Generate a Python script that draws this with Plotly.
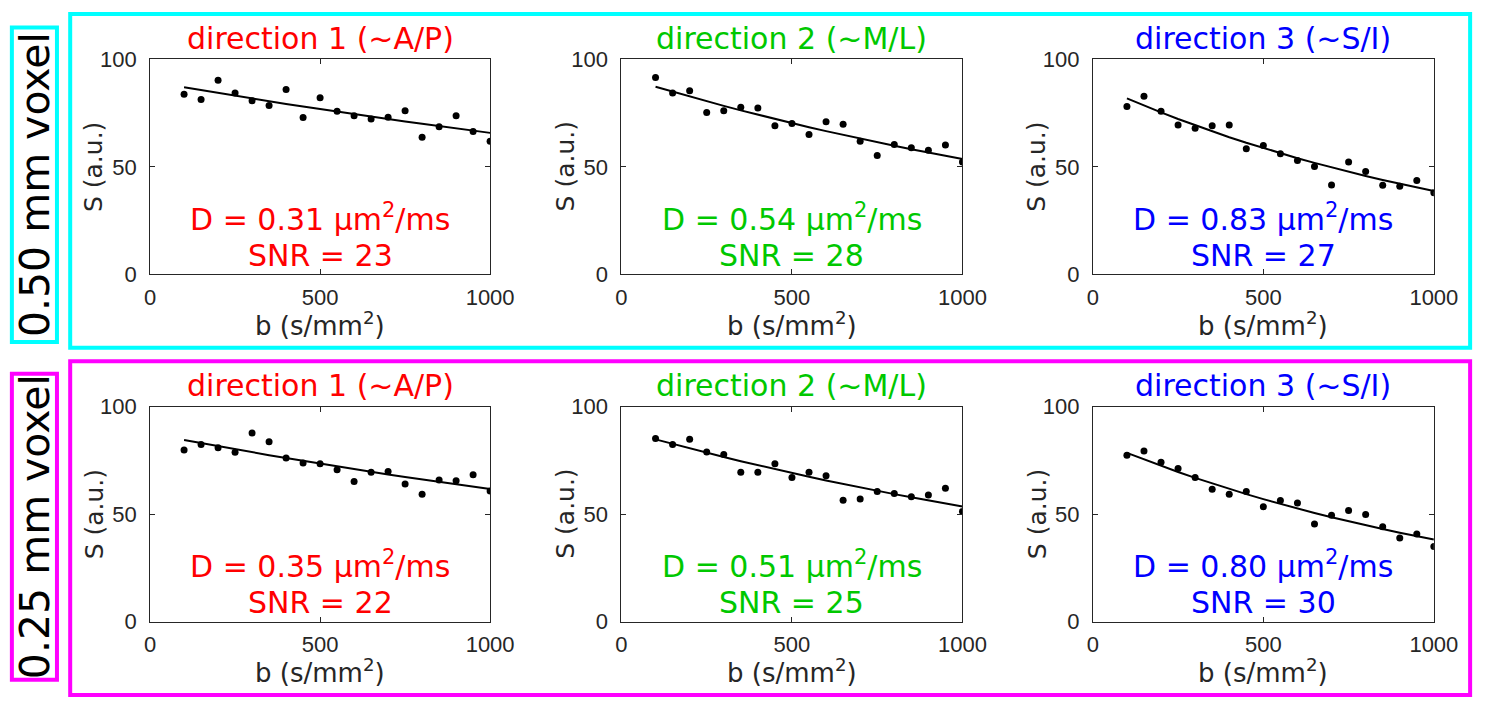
import plotly.graph_objects as go
import numpy as np

W, H = 1500, 710

# ---------------- data ----------------
b_values = [100, 150, 200, 250, 300, 350, 400, 450, 500, 550,
            600, 650, 700, 750, 800, 850, 900, 950, 1000]

# 0.50 mm voxel
S_050_dir1 = [83.7, 81.3, 90.3, 84.3, 80.7, 78.5, 85.9, 72.9, 82.1, 75.8,
              73.8, 72.2, 73.1, 76.1, 63.7, 68.6, 73.8, 66.4, 61.9]
S_050_dir2 = [91.5, 84.3, 85.4, 75.3, 76.1, 77.7, 77.3, 69.1, 70.1, 65.0,
              71.0, 69.8, 61.9, 55.3, 60.4, 58.9, 57.7, 60.1, 52.2]
S_050_dir3 = [78.0, 82.8, 75.8, 69.4, 67.9, 69.1, 69.4, 58.4, 59.9, 56.1,
              52.9, 50.2, 41.6, 52.2, 47.8, 41.4, 41.0, 43.6, 38.0]
# 0.25 mm voxel
S_025_dir1 = [79.8, 82.4, 80.9, 78.8, 87.7, 83.7, 76.1, 73.8, 73.4, 70.7,
              65.2, 69.5, 69.8, 64.0, 59.3, 65.9, 65.5, 68.3, 60.8]
S_025_dir2 = [85.2, 82.4, 84.8, 78.9, 77.7, 69.5, 69.5, 73.4, 67.1, 69.5,
              67.9, 56.5, 57.0, 60.5, 59.6, 58.1, 58.9, 62.0, 51.3]
S_025_dir3 = [77.4, 79.4, 74.1, 71.2, 67.1, 61.6, 59.3, 60.5, 53.4, 56.4,
              55.2, 45.4, 49.5, 51.7, 49.8, 44.2, 38.9, 40.8, 35.0]

# fitted mono-exponential parameters (S0 in a.u., D in um^2/ms)
fit_S0_050 = [89.7, 92.1, 88.9]
fit_D_050 = [0.31, 0.54, 0.83]
snr_050 = [23, 28, 27]
fit_S0_025 = [87.5, 89.2, 85.0]
fit_D_025 = [0.35, 0.51, 0.80]
snr_025 = [22, 25, 30]

direction_titles = ["direction 1 (~A/P)", "direction 2 (~M/L)", "direction 3 (~S/I)"]
row_labels = ["0.50 mm voxel", "0.25 mm voxel"]
x_label = "b (s/mm<sup>2</sup>)"
y_label = "S (a.u.)"
x_ticks = [0, 500, 1000]
y_ticks = [0, 50, 100]

# ---------------- styling ----------------
dir_colors = ["#FF0000", "#00C800", "#0000FF"]
row_colors = ["#00FFFF", "#FF00FF"]
TXT_FONT = "DejaVu Sans"
TICK_FONT = "Liberation Sans"
AX_COLOR = "#262626"


def px(x):
    return x / W


def py(y):
    return 1 - y / H


panel_x = [(147, 494), (628, 976), (1109, 1457)]
row_y = [(49, 272), (409, 632)]
row_offset = [0, 360]

rows_data = [
    (S_050_dir1, S_050_dir2, S_050_dir3, fit_S0_050, fit_D_050, snr_050),
    (S_025_dir1, S_025_dir2, S_025_dir3, fit_S0_025, fit_D_025, snr_025),
]

fig = go.Figure()
annotations = []
shapes = []
layout_axes = {}

b_arr = np.array(b_values, dtype=float)
idx = 0
for r, (s1, s2, s3, s0s, ds, snrs) in enumerate(rows_data):
    series = [s1, s2, s3]
    yt, yb = row_y[r]
    off = row_offset[r]
    for c in range(3):
        idx += 1
        xa = "x" if idx == 1 else f"x{idx}"
        ya = "y" if idx == 1 else f"y{idx}"
        xl, xr = panel_x[c]
        fit_vals = s0s[c] * np.exp(-b_arr * ds[c] / 1000.0)
        fig.add_trace(go.Scatter(x=b_values, y=fit_vals, mode="lines",
                                 line=dict(color="black", width=2),
                                 xaxis=xa, yaxis=ya, showlegend=False,
                                 hoverinfo="skip"))
        fig.add_trace(go.Scatter(x=b_values, y=series[c], mode="markers",
                                 marker=dict(color="black", size=7),
                                 xaxis=xa, yaxis=ya, showlegend=False))
        axcommon = dict(showline=True, linecolor=AX_COLOR, linewidth=1,
                        mirror="ticks", ticks="inside", ticklen=5,
                        tickcolor=AX_COLOR, showgrid=False, zeroline=False,
                        tickfont=dict(family=TICK_FONT, size=22, color=AX_COLOR))
        kx = "xaxis" if idx == 1 else f"xaxis{idx}"
        ky = "yaxis" if idx == 1 else f"yaxis{idx}"
        layout_axes[kx] = dict(domain=[px(xl), px(xr)], range=[0, 1000],
                               tickvals=x_ticks, anchor=ya,
                               ticklabelstandoff=3, **axcommon)
        layout_axes[ky] = dict(domain=[py(yb), py(yt)], range=[0, 100],
                               tickvals=y_ticks, anchor=xa,
                               ticklabelstandoff=8, **axcommon)
        cx = (xl + xr) / 2
        col = dir_colors[c]
        annotations.append(dict(text=direction_titles[c], x=px(cx), y=py(27 + off),
                                xref="paper", yref="paper", showarrow=False,
                                xanchor="center", yanchor="middle",
                                font=dict(family=TXT_FONT, size=30, color=col)))
        annotations.append(dict(text=f"D = {ds[c]:.2f} µm<sup>2</sup>/ms",
                                x=px(cx), y=py(213 + off),
                                xref="paper", yref="paper", showarrow=False,
                                xanchor="center", yanchor="middle",
                                font=dict(family=TXT_FONT, size=30, color=col)))
        annotations.append(dict(text=f"SNR = {snrs[c]}",
                                x=px(cx), y=py(252 + off),
                                xref="paper", yref="paper", showarrow=False,
                                xanchor="center", yanchor="middle",
                                font=dict(family=TXT_FONT, size=30, color=col)))
        annotations.append(dict(text=x_label,
                                x=px(cx), y=py(323 + off),
                                xref="paper", yref="paper", showarrow=False,
                                xanchor="center", yanchor="middle",
                                font=dict(family=TXT_FONT, size=26, color=AX_COLOR)))
        annotations.append(dict(text=y_label, textangle=-90,
                                x=px(xl - 57), y=py((yt + yb) / 2),
                                xref="paper", yref="paper", showarrow=False,
                                xanchor="center", yanchor="middle",
                                font=dict(family=TXT_FONT, size=25, color=AX_COLOR)))

# row frames and label boxes
big_boxes = [(65.5, 2, 1494, 348), (65.5, 362, 1494, 708)]
label_boxes = [(6, 16, 52, 342), (6, 375, 52, 692)]
for r in range(2):
    x0, y0, x1, y1 = big_boxes[r]
    shapes.append(dict(type="rect", xref="paper", yref="paper",
                       x0=px(x0), x1=px(x1), y0=py(y0), y1=py(y1),
                       line=dict(color=row_colors[r], width=4)))
    x0, y0, x1, y1 = label_boxes[r]
    shapes.append(dict(type="rect", xref="paper", yref="paper",
                       x0=px(x0), x1=px(x1), y0=py(y0), y1=py(y1),
                       line=dict(color=row_colors[r], width=4)))
    annotations.append(dict(text=row_labels[r], textangle=-90,
                            x=px(29), y=py((y0 + y1) / 2),
                            xref="paper", yref="paper", showarrow=False,
                            xanchor="center", yanchor="middle",
                            font=dict(family=TXT_FONT, size=41, color="black")))

fig.update_layout(width=W, height=H, margin=dict(l=0, r=0, t=0, b=0),
                  paper_bgcolor="white", plot_bgcolor="white",
                  annotations=annotations, shapes=shapes, **layout_axes)

fig.write_html("out.html", config={"displayModeBar": False},
               post_script="document.body.style.margin='0';"
                           "document.body.style.overflow='hidden';")
